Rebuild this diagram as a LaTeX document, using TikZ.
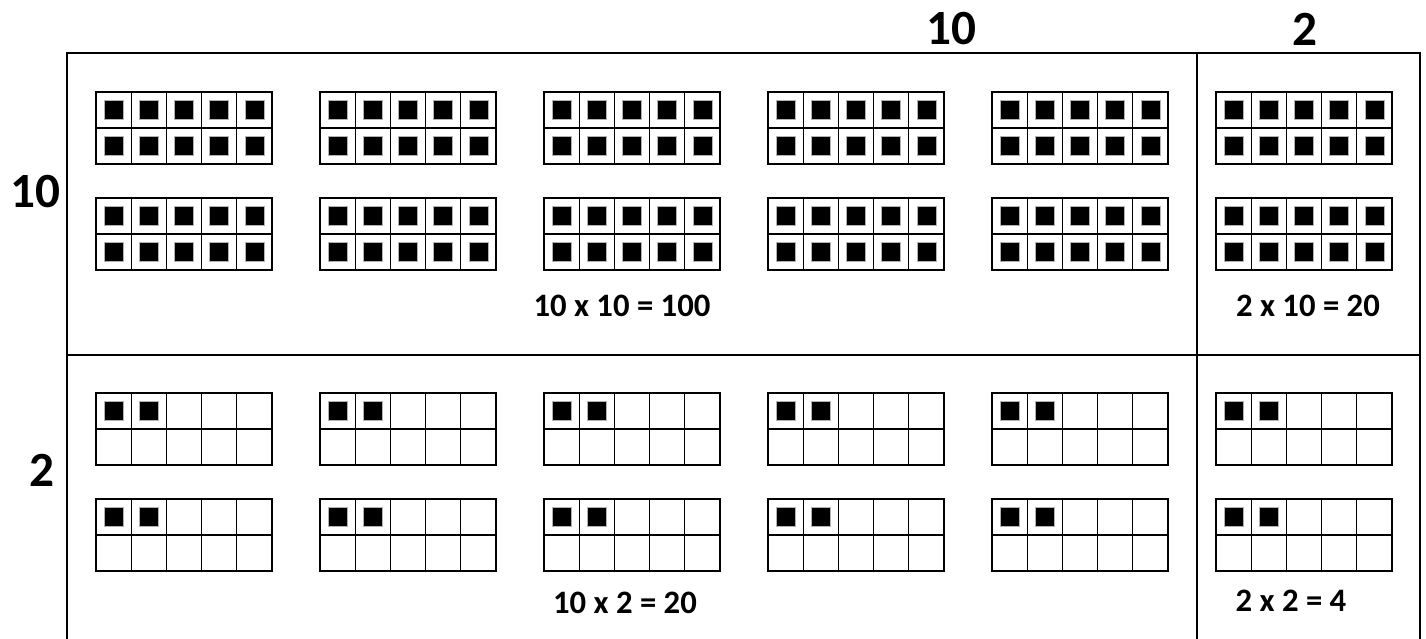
\documentclass[tikz,border=0pt]{standalone}
\usepackage{fontspec}
\setmainfont{Carlito}
\newcommand{\tenframe}[3]{% top-left x, top-left y, dots
  \foreach \c in {0,...,4} {
    \foreach \r in {0,1} {
      \pgfmathtruncatemacro{\idx}{\r*5+\c}
      \draw[cell] (#1+\c*35.2, #2+\r*36) rectangle ++(35.2,36);
      \ifnum\idx<#3
        \fill[dot] (#1+\c*35.2+8.1, #2+\r*36+8.5) rectangle ++(19,19);
      \fi
    }
  }
  \draw[edge] (#1,#2) rectangle ++(176,72);
}
\begin{document}
\begin{tikzpicture}[x=0.01cm, y=-0.01cm, font=\bfseries,
          cell/.style={draw=black, line width=0.35pt},
          edge/.style={draw=black, line width=0.5pt},
          dot/.style={fill=black, draw=gray!60, line width=0.2pt},
          quad/.style={draw=black, line width=0.6pt},
          side/.style={font=\fontsize{14}{16}\selectfont\bfseries},
          prod/.style={font=\fontsize{9.3}{11}\selectfont\bfseries}]
        \useasboundingbox (0,0) rectangle (1426,639);
        % quadrant lines
        \draw[quad] (67,639) -- (67,53) -- (1420,53) -- (1420,639);
        \draw[quad] (1197,53) -- (1197,639);
        \draw[quad] (67,355) -- (1420,355);
        % side labels
        \node[side] (top10) at (951,29) {10};
        \node[side] (top2) at (1305,29) {2};
        \node[side] (left10) at (35,192) {10};
        \node[side] (left2) at (42,470) {2};
        % ten frames
        \foreach \x in {96,320,544,768,992} {
          \tenframe{\x}{92}{10}
          \tenframe{\x}{198}{10}
          \tenframe{\x}{393}{2}
          \tenframe{\x}{499}{2}
        }
        \tenframe{1216}{92}{10}
        \tenframe{1216}{198}{10}
        \tenframe{1216}{393}{2}
        \tenframe{1216}{499}{2}
        % products
        \node[prod] (p100) at (622,306) {10 x 10 = 100};
        \node[prod] (p20a) at (1308,306) {2 x 10 = 20};
        \node[prod] (p20b) at (625,603) {10 x 2 = 20};
        \node[prod] (p4) at (1291,601) {2 x 2 = 4};
      \end{tikzpicture}
\end{document}
